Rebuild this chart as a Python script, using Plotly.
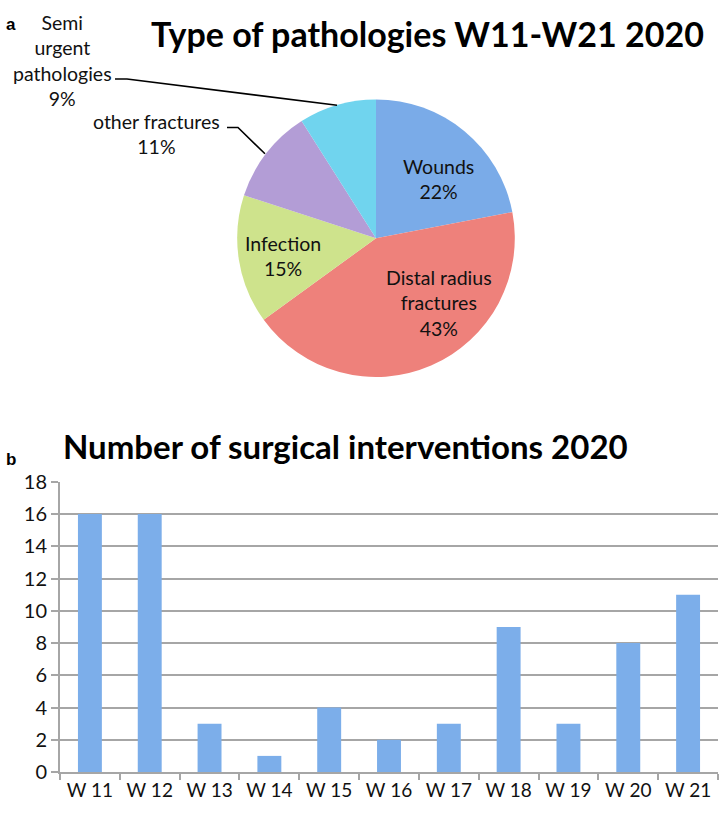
import plotly.graph_objects as go

W, H = 722, 817

# ---- data ----
pie_labels = ["Wounds", "Distal radius fractures", "Infection", "other fractures", "Semi urgent pathologies"]
pie_values = [22, 43, 15, 11, 9]
pie_colors = ["#7AABE8", "#EE817B", "#CEE38C", "#B39DD6", "#70D4EE"]
# label text as wrapped in the reference (one entry per slice)
pie_label_lines = [["Wounds"], ["Distal radius", "fractures"], ["Infection"], ["other fractures"],
                   ["Semi", "urgent", "pathologies"]]

weeks = ["W 11", "W 12", "W 13", "W 14", "W 15", "W 16", "W 17", "W 18", "W 19", "W 20", "W 21"]
interventions = [16, 16, 3, 1, 4, 2, 3, 9, 3, 8, 11]
y_ticks = [0, 2, 4, 6, 8, 10, 12, 14, 16, 18]

FONT = "Lato"
LABEL_SIZE = 19.5
TICK_SIZE = 19

def px(x):
    return x / W

def py(y):
    return 1 - y / H

fig = go.Figure()

fig.add_trace(go.Pie(
    labels=pie_labels,
    values=pie_values,
    textinfo="none",
    sort=False,
    direction="clockwise",
    rotation=0,
    marker=dict(colors=pie_colors, line=dict(width=0)),
    domain=dict(x=[px(233), px(519)], y=[py(375), py(89)]),
    showlegend=False,
    hoverinfo="label+percent",
))

fig.add_trace(go.Bar(
    x=weeks,
    y=interventions,
    marker=dict(color="#7CAEEA", line=dict(width=0)),
    width=0.4,
    xaxis="x",
    yaxis="y",
    showlegend=False,
))

grid_color = "#A6A6A6"

fig.update_layout(
    width=W,
    height=H,
    margin=dict(l=0, r=0, t=0, b=0),
    paper_bgcolor="white",
    plot_bgcolor="white",
    font=dict(family=FONT, color="#111111"),
    xaxis=dict(
        domain=[px(60), px(718)],
        anchor="y",
        type="category",
        tickson="boundaries",
        ticks="outside",
        ticklen=6,
        tickwidth=1.5,
        tickcolor=grid_color,
        showline=True,
        linecolor=grid_color,
        linewidth=2,
        showgrid=False,
        tickfont=dict(family=FONT, size=TICK_SIZE, color="#111111"),
        fixedrange=True,
    ),
    yaxis=dict(
        domain=[py(782), py(483)],
        anchor="x",
        range=[0, 18],
        tickvals=y_ticks,
        ticks="outside",
        ticklen=7,
        tickwidth=2,
        tickcolor=grid_color,
        showline=True,
        linecolor=grid_color,
        linewidth=2,
        showgrid=True,
        gridcolor=grid_color,
        gridwidth=2,
        zeroline=False,
        tickfont=dict(family=FONT, size=TICK_SIZE + 1, color="#111111"),
        fixedrange=True,
    ),
    bargap=0.6,
)

# label anchor positions (pixels) for each slice label, as placed in the reference
label_pos = [(438, 171), (439, 299), (283, 250), (156, 125), (62, 49)]

annotations = [
    dict(text="<b>Type of pathologies W11-W21 2020</b>", x=px(427), y=py(21), xref="paper", yref="paper",
         showarrow=False, font=dict(family=FONT, size=34, color="#000000"), xanchor="center", yanchor="middle"),
    dict(text="<b>Number of surgical interventions 2020</b>", x=px(345), y=py(446), xref="paper", yref="paper",
         showarrow=False, font=dict(family=FONT, size=33, color="#000000"), xanchor="center", yanchor="middle"),
    dict(text="<b>a</b>", x=px(4), y=py(12), xref="paper", yref="paper", showarrow=False,
         font=dict(family="Liberation Sans", size=17, color="#000000"), xanchor="left", yanchor="middle"),
    dict(text="<b>b</b>", x=px(4), y=py(460), xref="paper", yref="paper", showarrow=False,
         font=dict(family="Liberation Sans", size=17, color="#000000"), xanchor="left", yanchor="middle"),
]
total = sum(pie_values)
for lines, val, (lx, ly) in zip(pie_label_lines, pie_values, label_pos):
    pct = round(100 * val / total)
    annotations.append(dict(
        text="<br>".join(lines + [f"{pct}%"]), x=px(lx), y=py(ly), xref="paper", yref="paper",
        showarrow=False, font=dict(family=FONT, size=LABEL_SIZE, color="#111111"),
        xanchor="center", yanchor="middle", align="center"))
fig.update_layout(annotations=annotations)

def leader(points):
    d = "M " + " L ".join(f"{px(x):.4f},{py(y):.4f}" for x, y in points)
    return dict(type="path", path=d, xref="paper", yref="paper", line=dict(color="#000000", width=1.6))

fig.update_layout(shapes=[
    leader([(115, 68), (127, 68), (337, 95)]),
    leader([(227, 118), (238, 118), (265, 145)]),
])

fig.write_html("out.html", config={"displayModeBar": False},
               post_script="document.body.style.margin='0';")
